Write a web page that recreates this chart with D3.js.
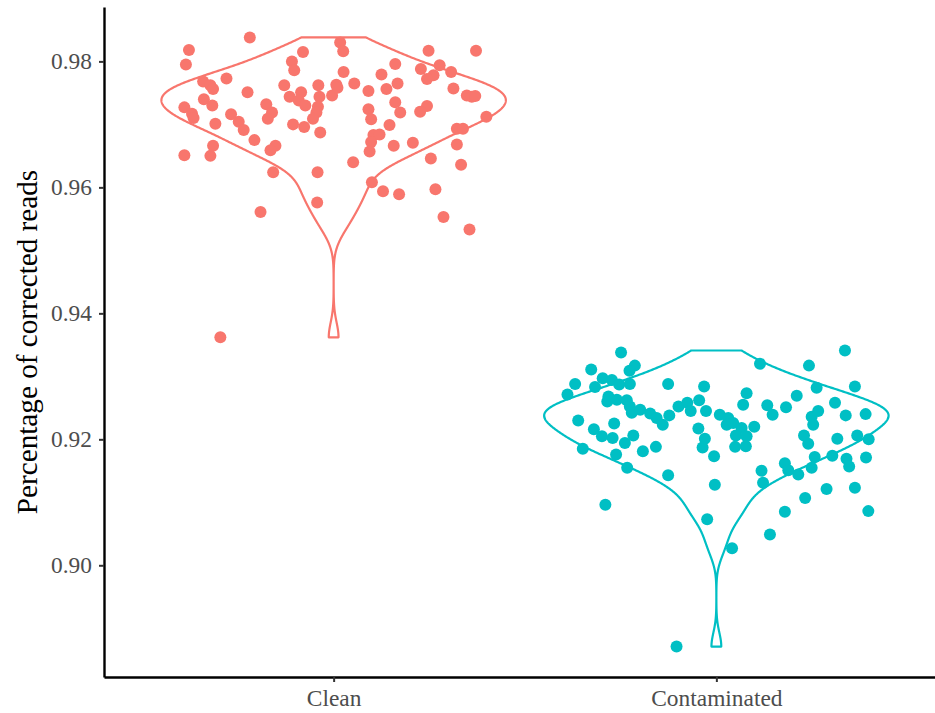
<!DOCTYPE html>
<html>
<head>
<meta charset="utf-8">
<script src="https://cdn.jsdelivr.net/npm/d3@7"></script>
<style>
body { margin: 0; background: #fff; }
</style>
</head>
<body>
<div id="chart"></div>
<script>
var groups = ["Clean", "Contaminated"];
var colors = ["#F8766D", "#00BFC4"];
var yTicks = [0.90, 0.92, 0.94, 0.96, 0.98];
var yTitle = "Percentage of corrected reads";

// values, jitter is horizontal offset in category units
var cleanValues = [0.9838, 0.9818, 0.9795, 0.9815, 0.9800, 0.9786, 0.9773, 0.9768, 0.9762, 0.9756,
    0.9751, 0.9762, 0.9762, 0.9763, 0.9744, 0.9751, 0.9738, 0.9730, 0.9744, 0.9728,
    0.9719, 0.9709, 0.9746, 0.9740, 0.9730, 0.9727, 0.9717, 0.9710, 0.9732, 0.9719,
    0.9709, 0.9716, 0.9704, 0.9691, 0.9701, 0.9700, 0.9696, 0.9687, 0.9675, 0.9666,
    0.9650, 0.9651, 0.9666, 0.9659, 0.9624, 0.9624, 0.9830, 0.9816, 0.9817, 0.9817,
    0.9796, 0.9783, 0.9779, 0.9788, 0.9794, 0.9778, 0.9772, 0.9783, 0.9758, 0.9765,
    0.9753, 0.9756, 0.9765, 0.9757, 0.9746, 0.9744, 0.9745, 0.9735, 0.9719, 0.9724,
    0.9708, 0.9729, 0.9720, 0.9712, 0.9699, 0.9683, 0.9684, 0.9672, 0.9657, 0.9693,
    0.9693, 0.9666, 0.9671, 0.9668, 0.9640, 0.9646, 0.9636, 0.9576, 0.9561, 0.9608,
    0.9594, 0.9589, 0.9597, 0.9553, 0.9533, 0.9362];
var cleanJitter = [-0.219, -0.378, -0.386, -0.080, -0.109, -0.103, -0.280, -0.341, -0.322, -0.315,
    -0.225, -0.129, -0.040, 0.007, -0.115, -0.085, -0.091, -0.074, -0.037, -0.041,
    -0.045, -0.054, -0.004, -0.339, -0.317, -0.390, -0.370, -0.366, -0.176, -0.161,
    -0.172, -0.268, -0.248, -0.235, -0.309, -0.106, -0.077, -0.035, -0.207, -0.315,
    -0.322, -0.390, -0.152, -0.165, -0.158, -0.042, 0.017, 0.025, 0.248, 0.372,
    0.161, 0.026, 0.125, 0.228, 0.277, 0.261, 0.244, 0.307, 0.010, 0.054,
    0.091, 0.138, 0.167, 0.313, 0.348, 0.361, 0.370, 0.161, 0.174, 0.091,
    0.098, 0.244, 0.226, 0.399, 0.146, 0.104, 0.120, 0.098, 0.094, 0.322,
    0.338, 0.157, 0.207, 0.322, 0.051, 0.254, 0.333, -0.043, -0.191, 0.100,
    0.129, 0.171, 0.266, 0.287, 0.355, -0.296];

var contamValues = [0.9338, 0.9317, 0.9309, 0.9311, 0.9288, 0.9271, 0.9297, 0.9294, 0.9287, 0.9288,
    0.9283, 0.9288, 0.9284, 0.9268, 0.9260, 0.9263, 0.9262, 0.9252, 0.9242, 0.9247,
    0.9241, 0.9234, 0.9223, 0.9238, 0.9252, 0.9258, 0.9245, 0.9262, 0.9245, 0.9239,
    0.9230, 0.9225, 0.9216, 0.9205, 0.9202, 0.9206, 0.9194, 0.9185, 0.9176, 0.9181,
    0.9188, 0.9217, 0.9201, 0.9187, 0.9173, 0.9155, 0.9143, 0.9128, 0.9341, 0.9320,
    0.9317, 0.9284, 0.9282, 0.9273, 0.9255, 0.9269, 0.9258, 0.9254, 0.9239, 0.9251,
    0.9245, 0.9236, 0.9223, 0.9238, 0.9240, 0.9234, 0.9223, 0.9226, 0.9218, 0.9206,
    0.9205, 0.9189, 0.9188, 0.9220, 0.9206, 0.9193, 0.9201, 0.9206, 0.9200, 0.9172,
    0.9174, 0.9169, 0.9157, 0.9171, 0.9162, 0.9151, 0.9150, 0.9131, 0.9144, 0.9155,
    0.9121, 0.9123, 0.9096, 0.9073, 0.9027, 0.9049, 0.9085, 0.9107, 0.9086, 0.8871];
var contamJitter = [-0.249, -0.213, -0.227, -0.327, -0.369, -0.389, -0.297, -0.273, -0.254, -0.226,
    -0.317, -0.126, -0.032, -0.282, -0.285, -0.260, -0.234, -0.226, -0.221, -0.199,
    -0.173, -0.156, -0.140, -0.123, -0.099, -0.076, -0.067, -0.045, -0.027, 0.009,
    -0.361, -0.267, -0.320, -0.299, -0.271, -0.217, -0.239, -0.349, -0.262, -0.192,
    -0.158, -0.047, -0.030, -0.036, -0.006, -0.233, -0.126, -0.004, 0.336, 0.114,
    0.242, 0.362, 0.262, 0.079, 0.070, 0.210, 0.310, 0.133, 0.147, 0.182,
    0.266, 0.249, 0.253, 0.338, 0.390, 0.031, 0.027, 0.044, 0.066, 0.051,
    0.079, 0.077, 0.049, 0.099, 0.229, 0.240, 0.316, 0.368, 0.398, 0.257,
    0.303, 0.340, 0.347, 0.391, 0.179, 0.188, 0.118, 0.122, 0.214, 0.249,
    0.288, 0.362, -0.290, -0.024, 0.041, 0.140, 0.179, 0.232, 0.397, -0.104];

var width = 935, height = 713;
var panel = {left: 104, right: 946, top: 7, bottom: 677};
var fontFamily = "'Liberation Serif', 'Times New Roman', serif";

var series = [
    {name: groups[0], values: cleanValues, jitter: cleanJitter, color: colors[0]},
    {name: groups[1], values: contamValues, jitter: contamJitter, color: colors[1]}
];

var allValues = cleanValues.concat(contamValues);
var ext = d3.extent(allValues);
var pad = (ext[1] - ext[0]) * 0.05;

var x = d3.scalePoint()
    .domain(groups)
    .range([panel.left, panel.right])
    .padding(0.6);

var y = d3.scaleLinear()
    .domain([ext[0] - pad, ext[1] + pad])
    .range([panel.bottom, panel.top]);

var step = x.step();

// gaussian kernel density with R's bw.nrd0, trimmed to the data range
function density(values) {
    var sorted = values.slice().sort(d3.ascending);
    var n = sorted.length;
    var sd = d3.deviation(sorted);
    var iqr = d3.quantileSorted(sorted, 0.75) - d3.quantileSorted(sorted, 0.25);
    var bw = 0.9 * Math.min(sd, iqr / 1.34) * Math.pow(n, -0.2);
    var lo = sorted[0], hi = sorted[n - 1];
    return d3.range(512).map(function(i) {
        var v = lo + (hi - lo) * i / 511;
        var s = d3.sum(sorted, function(d) {
            var u = (v - d) / bw;
            return Math.exp(-0.5 * u * u);
        });
        return [v, s / (n * bw * Math.sqrt(2 * Math.PI))];
    });
}

var svg = d3.select("#chart").append("svg")
    .attr("width", width)
    .attr("height", height)
    .style("display", "block");

var line = d3.line();

series.forEach(function(s) {
    var dens = density(s.values);
    var maxD = d3.max(dens, function(d) { return d[1]; });
    var cx = x(s.name);
    var half = step * 0.45;
    var right = dens.map(function(d) { return [cx + d[1] / maxD * half, y(d[0])]; });
    var left = dens.slice().reverse().map(function(d) { return [cx - d[1] / maxD * half, y(d[0])]; });
    svg.append("path")
        .attr("d", line(right.concat(left)) + "Z")
        .attr("fill", "none")
        .attr("stroke", s.color)
        .attr("stroke-width", 2.2)
        .attr("stroke-linejoin", "round");
});

series.forEach(function(s) {
    svg.append("g")
        .selectAll("circle")
        .data(s.values)
        .enter().append("circle")
        .attr("cx", function(d, i) { return x(s.name) + s.jitter[i] * step; })
        .attr("cy", function(d) { return y(d); })
        .attr("r", 6)
        .attr("fill", s.color);
});

// axes
var yAxis = svg.append("g")
    .attr("transform", "translate(" + panel.left + ",0)")
    .call(d3.axisLeft(y).tickValues(yTicks).tickFormat(d3.format(".2f")).tickSize(5).tickSizeOuter(0).tickPadding(7));

var xAxis = svg.append("g")
    .attr("transform", "translate(0," + panel.bottom + ")")
    .call(d3.axisBottom(x).tickSize(5).tickSizeOuter(0).tickPadding(5));

[yAxis, xAxis].forEach(function(ax) {
    ax.select(".domain").attr("stroke", "#000").attr("stroke-width", 2.4);
    ax.selectAll(".tick line").attr("stroke", "#333").attr("stroke-width", 2);
    ax.selectAll(".tick text")
        .attr("fill", "#4D4D4D")
        .style("font-family", fontFamily)
        .style("font-size", "23.4px");
});

xAxis.selectAll(".tick text").attr("dy", null).attr("y", 29);

svg.append("text")
    .attr("transform", "translate(37," + ((panel.top + panel.bottom) / 2) + ") rotate(-90)")
    .attr("text-anchor", "middle")
    .style("font-family", fontFamily)
    .style("font-size", "29.2px")
    .attr("fill", "#000")
    .text(yTitle);
</script>
</body>
</html>
